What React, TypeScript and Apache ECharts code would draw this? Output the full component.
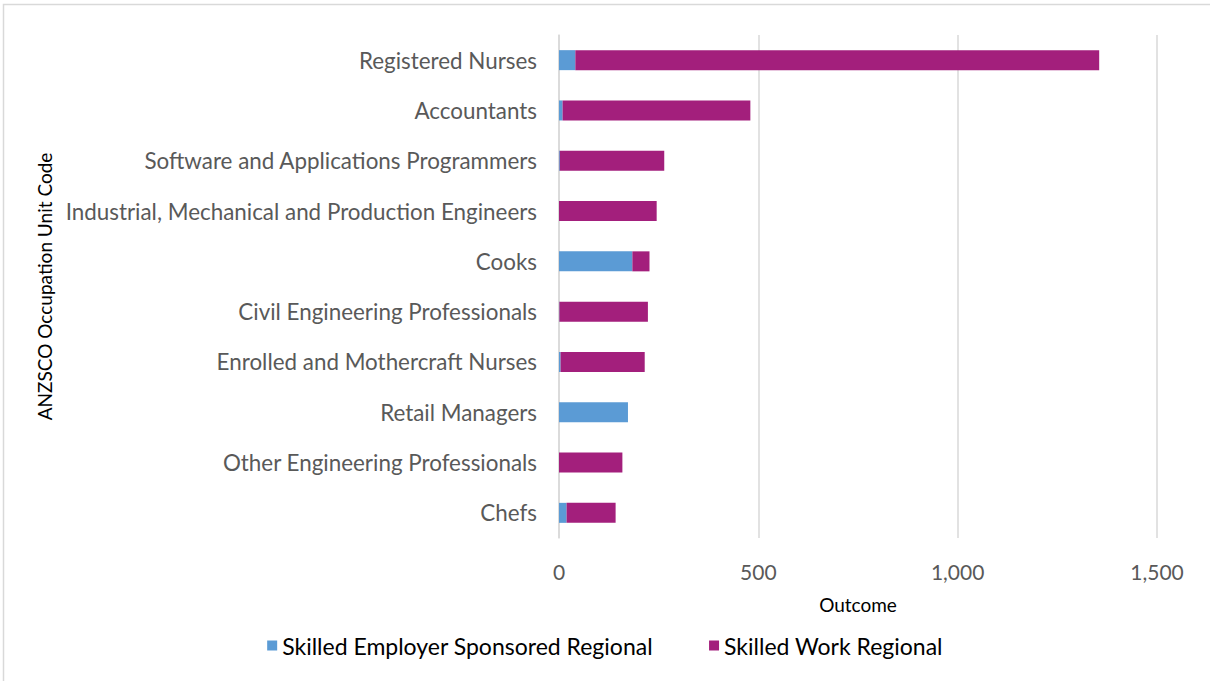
import React, { useEffect, useRef } from "react";
import * as echarts from "echarts";

const categories = [
  "Registered Nurses",
  "Accountants",
  "Software and Applications Programmers",
  "Industrial, Mechanical and Production Engineers",
  "Cooks",
  "Civil Engineering Professionals",
  "Enrolled and Mothercraft Nurses",
  "Retail Managers",
  "Other Engineering Professionals",
  "Chefs",
];
const employerSponsored = [41, 9, 2, 0, 184, 1, 4, 173, 0, 19];
const workRegional = [1314, 471, 262, 245, 43, 222, 211, 0, 159, 123];
const xTicks = [0, 500, 1000, 1500];

const FONT = "Lato";

export default function App() {
  const ref = useRef<HTMLDivElement>(null);
  useEffect(() => {
    const chart = echarts.init(ref.current!, null, { renderer: "svg" });
    chart.setOption({
      animation: false,
      textStyle: { fontFamily: FONT },
      graphic: [
        {
          type: "rect",
          shape: { x: 3.5, y: 4.5, width: 1220, height: 700 },
          style: { fill: "none", stroke: "#D9D9D9", lineWidth: 1.5 },
          silent: true,
        },
      ],
      grid: { left: 559, right: 53, top: 35, bottom: 143, containLabel: false },
      xAxis: {
        type: "value",
        min: xTicks[0],
        max: xTicks[xTicks.length - 1],
        interval: 500,
        name: "Outcome",
        nameLocation: "middle",
        nameGap: 57,
        nameTextStyle: { color: "#000", fontSize: 19, fontFamily: FONT },
        axisLine: { show: false },
        axisTick: { show: false },
        axisLabel: {
          color: "#595959",
          fontSize: 21,
          margin: 23,
          fontFamily: FONT,
          formatter: (v: number) => v.toLocaleString("en-US"),
        },
        splitLine: { show: true, lineStyle: { color: "#D9D9D9", width: 1.5 } },
      },
      yAxis: {
        type: "category",
        data: categories,
        inverse: true,
        name: "ANZSCO Occupation Unit Code",
        nameLocation: "middle",
        nameGap: 505,
        nameRotate: 90,
        nameTextStyle: { color: "#000", fontSize: 19, fontFamily: FONT },
        axisLine: { show: true, lineStyle: { color: "#D9D9D9", width: 1.5 } },
        axisTick: { show: false },
        axisLabel: { color: "#595959", fontSize: 22.4, margin: 22, fontFamily: FONT },
      },
      legend: {
        top: 629,
        left: "center",
        itemWidth: 10,
        itemHeight: 10,
        itemGap: 56,
        icon: "rect",
        textStyle: { color: "#000", fontSize: 23, fontFamily: FONT },
        data: ["Skilled Employer Sponsored Regional", "Skilled Work Regional"],
      },
      series: [
        {
          name: "Skilled Employer Sponsored Regional",
          type: "bar",
          stack: "total",
          data: employerSponsored,
          barWidth: 20,
          itemStyle: { color: "#5B9BD5" },
        },
        {
          name: "Skilled Work Regional",
          type: "bar",
          stack: "total",
          data: workRegional,
          barWidth: 20,
          itemStyle: { color: "#A31F7C" },
        },
      ],
    });
    return () => chart.dispose();
  }, []);
  return (
    <div
      ref={ref}
      style={{ position: "fixed", left: 0, top: 0, width: 1210, height: 681, background: "#fff" }}
    />
  );
}
